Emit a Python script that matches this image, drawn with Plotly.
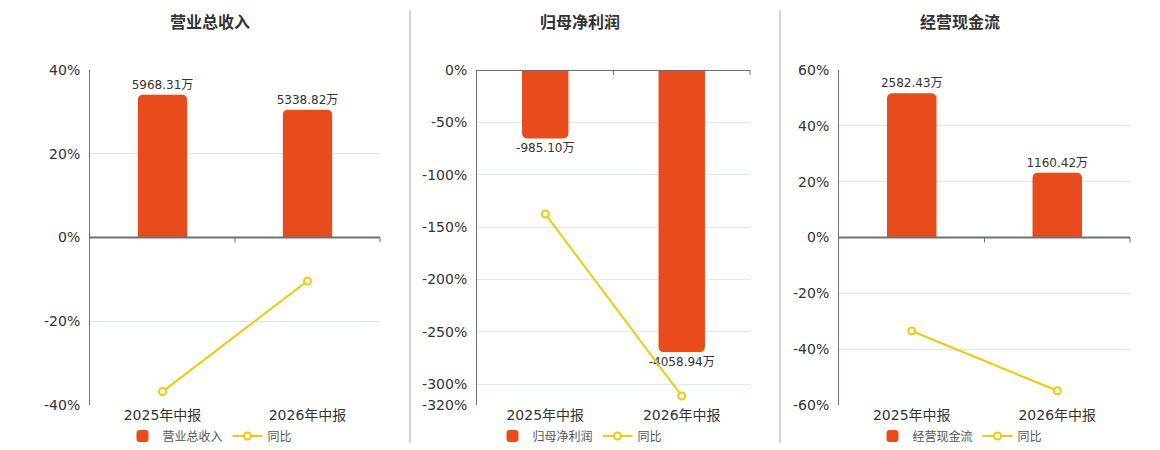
import plotly.graph_objects as go

# data
periods = ["2025年中报", "2026年中报"]

titles = ["营业总收入", "归母净利润", "经营现金流"]
amounts = [
    [5968.31, 5338.82],     # 万
    [-985.10, -4058.94],
    [2582.43, 1160.42],
]
yoy = [
    [-36.8, -10.4],         # %
    [-137.5, -311.4],
    [-33.5, -54.9],
]
pct_ticks = [
    [-40, -20, 0, 20, 40],
    [-320, -300, -250, -200, -150, -100, -50, 0],
    [-60, -40, -20, 0, 20, 40, 60],
]
pct_range = [[-40, 40], [-320, 0], [-60, 60]]
amt_range = [[-7000, 7000], [-4820, 0], [-3000, 3000]]

# layout, in pixels of the 1160x450 page; the html body has an 8px margin
OFF = 8
W, H = 1160 - OFF, 450 - OFF
plot_x = [(90, 380), (477, 750), (839, 1130)]
plot_y = (70, 405)
centers = [210, 580, 960]
seps = [410, 780]


def px(x):
    return (x - OFF) / W


def py(y):
    return 1 - (y - OFF) / H


BAR = "#E84B1C"
LINE = "#F4C70E"
AXIS = "#6E7079"
GRID = "#E0E6F1"
FONT = "DejaVu Sans, Noto Sans CJK SC, sans-serif"

fig = go.Figure()
shapes = []
annotations = []

for i in range(3):
    n = i + 1
    xa = "x" if n == 1 else f"x{n}"
    ya_amt = f"y{2 * n - 1}" if n > 1 else "y"
    ya_pct = f"y{2 * n}"
    leg = "legend" if n == 1 else f"legend{n}"

    fig.add_trace(go.Bar(
        x=periods, y=amounts[i], name=titles[i],
        xaxis=xa, yaxis=ya_amt, legend=leg,
        marker=dict(color=BAR, cornerradius=5, line=dict(width=0)),
        width=0.34,
        text=[f"{v:.2f}万" for v in amounts[i]],
        textposition="outside", cliponaxis=False, constraintext="none",
        textfont=dict(size=12, color="#333"),
        hoverinfo="skip",
    ))
    fig.add_trace(go.Scatter(
        x=periods, y=yoy[i], name="同比", mode="lines+markers",
        xaxis=xa, yaxis=ya_pct, legend=leg,
        line=dict(color=LINE, width=2),
        marker=dict(size=7, color="white", line=dict(color=LINE, width=2)),
        cliponaxis=False,
    ))

    x0, x1 = plot_x[i]
    xkey = "xaxis" if n == 1 else f"xaxis{n}"
    yamt_key = "yaxis" if n == 1 else f"yaxis{2 * n - 1}"
    ypct_key = f"yaxis{2 * n}"

    fig.update_layout({
        xkey: dict(domain=[px(x0), px(x1)], anchor=ya_amt, type="category",
                   showline=False, showgrid=False, ticks="",
                   automargin=False,
                   tickfont=dict(size=14, color="#333")),
        yamt_key: dict(domain=[py(plot_y[1]), py(plot_y[0])], anchor=xa,
                       range=amt_range[i], visible=False, automargin=False,
                       showgrid=False, zeroline=False),
        ypct_key: dict(overlaying=ya_amt, anchor=xa, side="left",
                       range=pct_range[i], tickvals=pct_ticks[i],
                       ticktext=[f"{v}%" for v in pct_ticks[i]],
                       showline=True, linecolor=AXIS, linewidth=1,
                       showgrid=True, gridcolor=GRID, gridwidth=1,
                       zeroline=False, ticks="", ticklabelstandoff=6,
                       automargin=False,
                       tickfont=dict(size=14, color="#333")),
        leg: dict(orientation="h", x=px(centers[i]), xanchor="center",
                  y=py(436), yanchor="middle",
                  font=dict(size=12, color="#555"),
                  bgcolor="rgba(0,0,0,0)", itemwidth=30,
                  tracegroupgap=0),
    })

    # category axis line sitting on zero, with its ticks
    shapes.append(dict(type="line", xref=f"{xa} domain", yref=ya_pct,
                       x0=0, x1=1, y0=0, y1=0,
                       line=dict(color=AXIS, width=2)))
    for tx in (0.5, 1.0):
        shapes.append(dict(type="line", xref=f"{xa} domain", yref=ya_pct,
                           x0=tx, x1=tx, ysizemode="pixel", yanchor=0,
                           y0=0, y1=-5, line=dict(color=AXIS, width=1)))

    annotations.append(dict(text=f"<b>{titles[i]}</b>", xref="paper",
                            yref="paper", x=px(centers[i]), y=py(22),
                            showarrow=False, xanchor="center",
                            yanchor="middle",
                            font=dict(size=16, color="#333")))

for sx in seps:
    shapes.append(dict(type="line", xref="paper", yref="paper",
                       x0=px(sx), x1=px(sx), y0=py(10), y1=py(443),
                       line=dict(color="#AAAAAA", width=1)))

fig.update_layout(
    width=W, height=H,
    margin=dict(l=0, r=0, t=0, b=0, autoexpand=False),
    paper_bgcolor="white", plot_bgcolor="white",
    font=dict(family=FONT, color="#333"),
    shapes=shapes, annotations=annotations,
    showlegend=True,
)

fig.write_html("out.html")
